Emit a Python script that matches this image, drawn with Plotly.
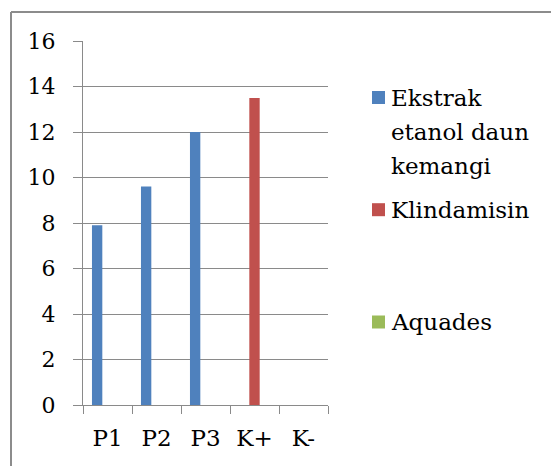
import plotly.graph_objects as go

# Categories and measured values per series
categories = ["P1", "P2", "P3", "K+", "K-"]
ekstrak_values = [7.9, 9.6, 12.0, None, None]
klindamisin_values = [None, None, None, 13.5, None]
aquades_values = [None, None, None, None, 0]

series_names = [["Ekstrak", "etanol daun", "kemangi"], ["Klindamisin"], ["Aquades"]]
series_colors = ["#4F81BD", "#C0504D", "#9BBB59"]
y_ticks = [0, 2, 4, 6, 8, 10, 12, 14, 16]

W, H = 551, 466
L, R, T, B = 83, 223, 41, 61
PW, PH = W - L - R, H - T - B
FONT = "DejaVu Serif"
GRID = "#8a8a8a"
LEG_SIZE = 23


def px(x):
    return (x - L) / PW


def py(y):
    return (H - B - y) / PH


fig = go.Figure()
for vals, color in zip([ekstrak_values, klindamisin_values, aquades_values], series_colors):
    fig.add_trace(go.Bar(x=categories, y=vals, marker=dict(color=color, line=dict(width=0)),
                         showlegend=False))

shapes = [
    # chart frame (top and left edges)
    dict(type="line", xref="paper", yref="paper", x0=px(11), x1=px(W + 5), y0=py(12), y1=py(12),
         line=dict(color="#8c8c8c", width=2)),
    dict(type="line", xref="paper", yref="paper", x0=px(11), x1=px(11), y0=py(12), y1=py(H + 5),
         line=dict(color="#8c8c8c", width=2)),
]
annotations = []

# legend: one swatch per series, label lines stacked 34 px apart
legend_rows = [97.5, 209.7, 322]
for lines, color, cy in zip(series_names, series_colors, legend_rows):
    shapes.append(dict(type="rect", xref="paper", yref="paper",
                       x0=px(372), x1=px(385), y0=py(cy - 6.5), y1=py(cy + 6.5),
                       fillcolor=color, line=dict(width=0)))
    for i, line in enumerate(lines):
        annotations.append(dict(xref="paper", yref="paper", x=px(389), y=py(cy + i * 34),
                                xanchor="left", yanchor="middle", align="left",
                                showarrow=False, text=line,
                                font=dict(family=FONT, size=LEG_SIZE, color="#000000")))

fig.update_layout(
    width=W, height=H,
    margin=dict(l=L, r=R, t=T, b=B, pad=0),
    paper_bgcolor="white", plot_bgcolor="white",
    barmode="group", bargap=0.366, bargroupgap=0,
    font=dict(family=FONT, size=22, color="#000000"),
    shapes=shapes, annotations=annotations,
    xaxis=dict(type="category", range=[-0.5, 4.5], tickson="boundaries", ticks="outside",
               ticklen=8, tickcolor=GRID, showline=True, linecolor=GRID, linewidth=1,
               showgrid=False, ticklabelstandoff=12, tickfont=dict(family=FONT, size=23)),
    yaxis=dict(range=[0, 16], tickvals=y_ticks, ticks="outside", ticklen=9, tickcolor=GRID,
               showline=True, linecolor=GRID, linewidth=1, showgrid=True, gridcolor=GRID,
               gridwidth=1, zeroline=False, ticklabelstandoff=13,
               tickfont=dict(family=FONT, size=22)),
)

fig.write_html("out.html")
